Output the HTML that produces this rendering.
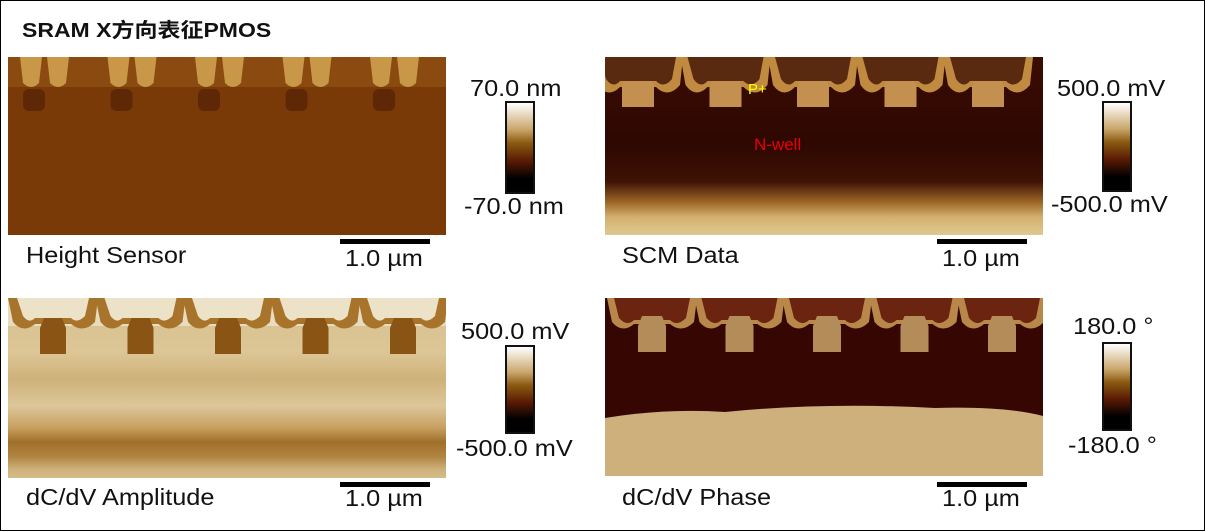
<!DOCTYPE html>
<html><head><meta charset="utf-8"><style>
body{margin:0;background:#fff;width:1205px;height:531px;position:relative;overflow:hidden;font-family:"Liberation Sans","Noto Sans CJK SC",sans-serif}
.frame{position:absolute;left:0;top:0;width:1203px;height:529px;border:1px solid #000}
.t{position:absolute;font-size:23px;color:#111;white-space:nowrap;transform:scaleX(1.1);transform-origin:0 0}
.cb{position:absolute;width:26px;border:2px solid #111;background:linear-gradient(#fff,#c9a56a 30%,#8a5a10 45%,#5a1a05 65%,#000 85%,#000)}
.sb{position:absolute;height:5px;background:#000;width:90px}
svg{position:absolute}
</style></head><body>
<div class="frame"></div>
<div class="t" style="left:22px;top:14px;font-weight:bold;font-size:20px;transform:scaleX(1.15)">SRAM X方向表征PMOS</div>

<svg id="p1" style="left:8px;top:57px" width="438" height="178"></svg>
<svg id="p2" style="left:605px;top:57px" width="438" height="178"></svg>
<svg id="p3" style="left:8px;top:298px" width="438" height="180"></svg>
<svg id="p4" style="left:605px;top:298px" width="438" height="178"></svg>

<div class="cb" style="left:505px;top:101px;height:89px"></div>
<div class="cb" style="left:1102px;top:101px;height:87px"></div>
<div class="cb" style="left:505px;top:345px;height:85px"></div>
<div class="cb" style="left:1102px;top:342px;height:85px"></div>

<div class="t" style="left:470px;top:75px">70.0 nm</div>
<div class="t" style="left:464px;top:193px">-70.0 nm</div>
<div class="t" style="left:1057px;top:75px">500.0 mV</div>
<div class="t" style="left:1051px;top:191px">-500.0 mV</div>
<div class="t" style="left:461px;top:318px">500.0 mV</div>
<div class="t" style="left:456px;top:435px">-500.0 mV</div>
<div class="t" style="left:1073px;top:313px">180.0 °</div>
<div class="t" style="left:1068px;top:432px">-180.0 °</div>

<div class="sb" style="left:340px;top:239px"></div>
<div class="sb" style="left:937px;top:239px"></div>
<div class="sb" style="left:340px;top:482px"></div>
<div class="sb" style="left:937px;top:482px"></div>
<div class="t" style="left:345px;top:245px">1.0 µm</div>
<div class="t" style="left:942px;top:245px">1.0 µm</div>
<div class="t" style="left:345px;top:485px">1.0 µm</div>
<div class="t" style="left:942px;top:485px">1.0 µm</div>

<div class="t" style="left:26px;top:242px">Height Sensor</div>
<div class="t" style="left:622px;top:242px">SCM Data</div>
<div class="t" style="left:26px;top:484px">dC/dV Amplitude</div>
<div class="t" style="left:622px;top:484px">dC/dV Phase</div>

<script>
const NS="http://www.w3.org/2000/svg";
function add(s,tag,a){const e=document.createElementNS(NS,tag);for(const k in a)e.setAttribute(k,a[k]);s.appendChild(e);return e;}
function grad(s,id,stops){const d=add(s,"defs",{});const g=add(d,"linearGradient",{id:id,x1:0,y1:0,x2:0,y2:1});stops.forEach(([o,c])=>add(g,"stop",{offset:o,"stop-color":c}));}
const P=87.5;
let s=document.getElementById("p1");
add(s,"rect",{width:438,height:178,fill:"#7a3a08"});
add(s,"rect",{width:438,height:30,fill:"#8a4a10"});
for(let k=0;k<5;k++){const c=35+k*P;
 add(s,"rect",{x:c-20,y:32,width:22,height:22,fill:"#5e2806",rx:6});
 [c-12,c+15].forEach(x=>add(s,"path",{d:`M${x-11},0 L${x+11},0 L${x+8},26 Q${x},34 ${x-8},26 Z`,fill:"#c89848"}));
}
s=document.getElementById("p2");
grad(s,"g2",[[0,"#3a0c02"],[0.5,"#2e0802"],[0.7,"#3e1204"],[0.82,"#a06a28"],[0.9,"#d4b070"],[1,"#e0c890"]]);
add(s,"rect",{width:438,height:178,fill:"url(#g2)"});
for(let k=0;k<5;k++){const c=33+k*P;
 add(s,"path",{d:`M${c-45},0 L${c-40},28 Q${c-30},42 ${c-18},30 L${c+18},30 Q${c+30},42 ${c+42},28 L${c+45},0Z`,fill:"#c08a40"});
 add(s,"path",{d:`M${c-38},0 L${c-32},22 Q${c-25},32 ${c-18},24 L${c+18},24 Q${c+26},32 ${c+34},22 L${c+38},0Z`,fill:"#5a2a10"});
 add(s,"path",{d:`M${c-14},24 L${c+14},24 L${c+16},30 L${c+16},50 L${c-16},50 L${c-16},30Z`,fill:"#c49050"});
}
add(s,"text",{x:143,y:37,fill:"#ff0","font-size":15,"font-family":"Liberation Sans"}).textContent="P+";
add(s,"text",{x:149,y:93,fill:"#e00","font-size":17,"font-family":"Liberation Sans"}).textContent="N-well";
s=document.getElementById("p3");
grad(s,"g3",[[0,"#d8c090"],[0.3,"#dcc696"],[0.45,"#cfb27a"],[0.6,"#dcc69a"],[0.72,"#c8a060"],[0.8,"#a0702a"],[0.88,"#b08440"],[0.95,"#cdb07a"],[1,"#d4bc8a"]]);
add(s,"rect",{width:438,height:180,fill:"url(#g3)"});
add(s,"rect",{width:438,height:28,fill:"#e8dcc0"});
for(let k=0;k<5;k++){const c=45+k*P;
 add(s,"path",{d:`M${c-45},0 L${c-40},24 Q${c-30},36 ${c-18},26 L${c+18},26 Q${c+30},36 ${c+42},24 L${c+45},0Z`,fill:"#a8742c"});
 add(s,"path",{d:`M${c-36},0 L${c-30},18 Q${c-24},26 ${c-18},20 L${c+18},20 Q${c+24},26 ${c+32},18 L${c+36},0Z`,fill:"#ece2c8"});
 add(s,"path",{d:`M${c-9},20 L${c+9},20 L${c+13},30 L${c+13},56 L${c-13},56 L${c-13},30Z`,fill:"#8a5414"});
}
s=document.getElementById("p4");
add(s,"rect",{width:438,height:178,fill:"#360702"});
add(s,"path",{d:"M0,120 Q60,110 120,114 Q220,104 330,110 Q400,108 438,118 L438,178 L0,178Z",fill:"#cdb07c"});
for(let k=0;k<5;k++){const c=47+k*P;
 add(s,"path",{d:`M${c-45},0 L${c-40},24 Q${c-30},36 ${c-18},26 L${c+18},26 Q${c+30},36 ${c+42},24 L${c+45},0Z`,fill:"#b8884a"});
 add(s,"path",{d:`M${c-38},0 L${c-33},20 Q${c-25},29 ${c-18},22 L${c+18},22 Q${c+25},29 ${c+34},20 L${c+38},0Z`,fill:"#6a2410"});
 add(s,"path",{d:`M${c-10},18 L${c+10},18 L${c+14},28 L${c+14},54 L${c-14},54 L${c-14},28Z`,fill:"#b48c5a"});
}
</script>
</body></html>
